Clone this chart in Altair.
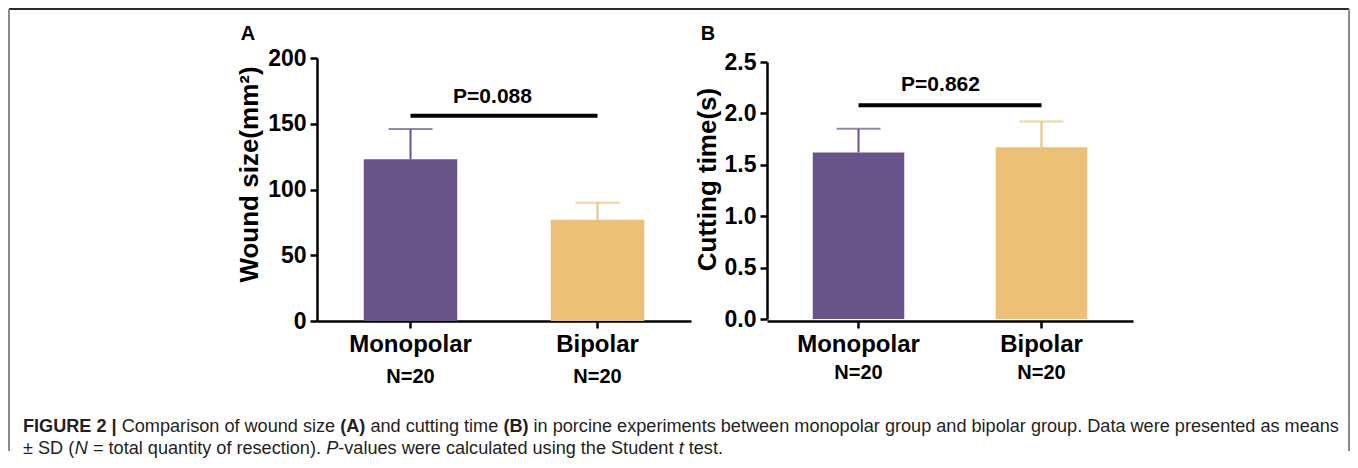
import altair as alt
import pandas as pd

# ---------------- data ----------------
groups = ["Monopolar", "Bipolar"]
n_labels = ["N=20", "N=20"]
bar_colors = ["#6A538A", "#EAC175"]

wound_mean = [123, 77]
wound_sd = [23, 13]
time_mean = [1.62, 1.67]
time_sd = [0.23, 0.25]

wound_ticks = [0, 50, 100, 150, 200]
time_ticks = [0.0, 0.5, 1.0, 1.5, 2.0, 2.5]

p_labels = ["P=0.088", "P=0.862"]
sig_levels = [156, 2.08]
p_levels = [170, 2.28]

panel_letters = ["A", "B"]
y_titles = ["Wound size(mm²)", "Cutting time(s)"]

caption_line1 = [
    ("FIGURE 2 |", "bold", "normal"),
    (" Comparison of wound size ", "normal", "normal"),
    ("(A)", "bold", "normal"),
    (" and cutting time ", "normal", "normal"),
    ("(B)", "bold", "normal"),
    (" in porcine experiments between monopolar group and bipolar group. Data were presented as means", "normal", "normal"),
]
caption_line2 = [
    ("± SD (", "normal", "normal"),
    ("N", "normal", "italic"),
    (" = total quantity of resection). ", "normal", "normal"),
    ("P", "normal", "italic"),
    ("-values were calculated using the Student ", "normal", "normal"),
    ("t", "normal", "italic"),
    (" test.", "normal", "normal"),
]

FONT = "Liberation Sans"

# Arial / Liberation Sans advance widths (1/1000 em) for caption layout
W_REG = {" ": 278, "(": 333, ")": 333, ".": 278, ",": 278, "-": 333, "=": 584, "±": 584, "|": 260,
         "C": 722, "D": 722, "N": 722, "P": 667, "S": 667,
         "a": 556, "b": 556, "c": 500, "d": 556, "e": 556, "f": 278, "g": 556, "h": 556, "i": 222,
         "j": 222, "k": 500, "l": 222, "m": 833, "n": 556, "o": 556, "p": 556, "q": 556, "r": 333,
         "s": 500, "t": 278, "u": 556, "v": 500, "w": 722, "x": 500, "y": 500, "z": 500}
W_BOLD = {" ": 278, "(": 333, ")": 333, "|": 280, "2": 556, "F": 611, "I": 278, "G": 778, "U": 722,
          "R": 722, "E": 667, "A": 722, "B": 722}


def text_em(s, bold):
    table = W_BOLD if bold else W_REG
    return sum(table.get(ch, 556) for ch in s) / 1000.0


line1_em = sum(text_em(t, w == "bold") for t, w, _ in caption_line1)
CAP_FS = round(1316 / line1_em, 2)

one = alt.Data(values=[{"k": 1}])


def make_panel(i, means, sds, ticks, fmt, ymax, width, yrange, title_x, title_y,
               letter_x, n_y, extra_layers):
    df = pd.DataFrame({
        "group": groups,
        "mean": means,
        "upper": [m + s for m, s in zip(means, sds)],
        "n": n_labels,
    })
    sig = pd.DataFrame({"x1": [groups[0]], "x2": [groups[1]], "y": [sig_levels[i]],
                        "py": [p_levels[i]], "label": [p_labels[i]]})

    xenc = alt.X("group:N", sort=groups,
                 scale=alt.Scale(domain=groups, paddingInner=0.5, paddingOuter=0.25),
                 axis=alt.Axis(title=None, labelAngle=0, labelAlign="center", labelBaseline="top",
                               labelFontSize=24, labelPadding=4))
    sk = dict(domain=[0, ymax], nice=False, zero=True)
    if yrange is not None:
        sk["range"] = yrange
    yenc = alt.Y("mean:Q", scale=alt.Scale(**sk),
                 axis=alt.Axis(values=ticks, format=fmt, title=y_titles[i],
                               titleFontSize=26, titleX=title_x, titleY=title_y,
                               titleAngle=270, titleAlign="center", titleBaseline="middle",
                               labelFontSize=23, labelPadding=4))
    color = alt.Color("group:N", scale=alt.Scale(domain=groups, range=bar_colors), legend=None)

    bars = alt.Chart(df).mark_bar().encode(x=xenc, y=yenc, color=color)
    err = alt.Chart(df).mark_rule(strokeWidth=2).encode(
        x=alt.X("group:N", sort=groups), y="mean:Q", y2="upper:Q", color=color)
    cap = alt.Chart(df).mark_tick(orient="horizontal", size=44, thickness=2).encode(
        x=alt.X("group:N", sort=groups), y="upper:Q", color=color)
    sigbar = alt.Chart(sig).mark_rule(strokeWidth=4, color="black").encode(
        x=alt.X("x1:N"), x2="x2:N", y="y:Q")
    ptxt = alt.Chart(sig).mark_text(font=FONT, fontSize=21, fontWeight="bold", color="black",
                                    dx=82, baseline="middle").encode(
        x=alt.X("x1:N"), y="py:Q", text="label:N")
    ntxt = alt.Chart(df).mark_text(font=FONT, fontSize=20, fontWeight="bold", color="black",
                                   baseline="alphabetic").encode(
        x=alt.X("group:N", sort=groups), y=alt.value(n_y), text="n:N")
    letter = alt.Chart(one).mark_text(text=panel_letters[i], font=FONT, fontSize=20,
                                      fontWeight="bold", color="black", baseline="middle").encode(
        x=alt.value(letter_x), y=alt.value(-24))
    return alt.layer(err, bars, cap, sigbar, ptxt, ntxt, letter, *extra_layers).properties(
        width=width, height=263)


# ---------------- frame + caption (drawn relative to panel A origin) ----------------
frame_layers = [
    alt.Chart(one).mark_rule(color="#2b2b2b", strokeWidth=2).encode(
        x=alt.value(-308), x2=alt.value(1032), y=alt.value(-49)),
    alt.Chart(one).mark_rule(color="#8a8a8a", strokeWidth=2).encode(
        x=alt.value(-308), y=alt.value(-49), y2=alt.value(393)),
    alt.Chart(one).mark_rule(color="#8a8a8a", strokeWidth=2).encode(
        x=alt.value(1032), y=alt.value(-49), y2=alt.value(393)),
]

caption_layers = []
for line, ybase in [(caption_line1, 374), (caption_line2, 396)]:
    x = -294.0
    for txt, weight, style in line:
        bold = weight == "bold"
        lead = len(txt) - len(txt.lstrip())
        tx = x + text_em(txt[:lead], bold) * CAP_FS
        caption_layers.append(
            alt.Chart(one).mark_text(text=txt.strip(), font=FONT, fontSize=CAP_FS,
                                     fontWeight=weight, fontStyle=style, color="#231f20",
                                     align="left", baseline="alphabetic").encode(
                x=alt.value(round(tx, 2)), y=alt.value(ybase)))
        x += text_em(txt, bold) * CAP_FS

panel_a = make_panel(0, wound_mean, wound_sd, wound_ticks, "d", 200, 374, None,
                     -68, 116, -69, 325, frame_layers + caption_layers)
panel_b = make_panel(1, time_mean, time_sd, time_ticks, ".1f", 2.5, 366, [261, 4],
                     -60, 121, -59, 321, [])

chart = alt.hconcat(panel_a, panel_b, spacing=76, bounds="flush").properties(
    padding=0, background="white"
).configure_view(stroke=None).configure_axis(
    domainColor="black", domainWidth=2.5, tickColor="black", tickWidth=2.5, tickSize=7,
    labelColor="black", labelFont=FONT, labelFontWeight="bold",
    titleColor="black", titleFont=FONT, titleFontWeight="bold", grid=False
)

chart.save("out.html", embed_options={"renderer": "svg", "actions": False})
